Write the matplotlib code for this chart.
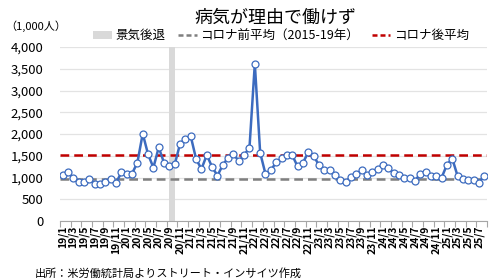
import numpy as np
import matplotlib
matplotlib.use("Agg")
import matplotlib.pyplot as plt
from matplotlib.patches import Patch
from matplotlib.lines import Line2D

plt.rcParams['font.family'] = ['Noto Sans CJK JP', 'DejaVu Sans']

# ---- data ----
years = [19, 20, 21, 22, 23, 24, 25]
months = [f"{y}/{m}" for y in years for m in range(1, 13)][:80]   # 19/1 .. 25/8
values = [1057, 1120, 982, 897, 897, 959, 860, 860, 906, 966,
          874, 1120, 1074, 1090, 1343, 2009, 1533, 1228, 1694, 1333,
          1257, 1303, 1779, 1885, 1947, 1425, 1195, 1517, 1241, 1044,
          1287, 1457, 1533, 1379, 1517, 1687, 3618, 1570, 1080, 1166,
          1349, 1441, 1517, 1517, 1257, 1333, 1579, 1503, 1287, 1166,
          1166, 1057, 936, 906, 1011, 1074, 1166, 1057, 1128, 1200,
          1295, 1211, 1103, 1065, 990, 982, 920, 1090, 1136, 1044,
          1044, 998, 1295, 1433, 1030, 975, 952, 936, 880, 1044]
pre_covid_avg = 960
post_covid_avg = 1510
recession_start = 20.0   # category position of shaded band (as drawn)
recession_end = 21.1

title = "病気が理由で働けず"
unit_label = "（1,000人）"
source = "出所：米労働統計局よりストリート・インサイツ作成"
legend_labels = ["景気後退", "コロナ前平均（2015-19年）", "コロナ後平均"]

# ---- figure ----
fig = plt.figure(figsize=(5, 2.8), dpi=100)
ax = fig.add_axes([0.12, 0.2107, 0.854, 0.6213])

x = np.arange(len(values))
ax.axvspan(recession_start, recession_end, color='#D9D9D9', lw=0, zorder=1)
ax.axhline(pre_covid_avg, color='#7F7F7F', lw=1.8, ls=(0, (3.5, 2)), zorder=2)
ax.axhline(post_covid_avg, color='#C00000', lw=1.8, ls=(0, (3.5, 2)), zorder=2)
ax.plot(x, values, color='#3C6BBF', lw=1.8, marker='o', ms=5,
        mfc='white', mec='#3C6BBF', mew=0.9, zorder=3)

ax.set_xlim(-0.5, len(values) - 0.5)
ax.set_ylim(0, 4000)
ax.set_yticks(np.arange(0, 4001, 500))
ax.set_yticklabels([f"{v:,}" for v in range(0, 4001, 500)], fontsize=9.5)
ax.yaxis.grid(True, color='#E3E3E3', lw=0.9)
ax.set_axisbelow(True)

ax.set_xticks(x[::2])
ax.set_xticklabels(months[::2], rotation=90, fontsize=7.5, fontweight='bold')
ax.set_xticks(np.arange(-0.5, len(values), 2), minor=True)
ax.tick_params(axis='x', which='major', length=0, pad=3)
ax.tick_params(axis='x', which='minor', length=4, color='#A6A6A6', width=0.8)
ax.tick_params(axis='y', length=0, pad=12)

for s in ['left', 'right', 'top']:
    ax.spines[s].set_visible(False)
ax.spines['bottom'].set_color('#A6A6A6')
ax.spines['bottom'].set_linewidth(0.8)

fig.text(0.55, 0.935, title, ha='center', va='center', fontsize=13)
fig.text(0.01, 0.907, unit_label, ha='left', va='center', fontsize=8)
fig.text(0.07, 0.025, source, ha='left', va='center', fontsize=8)

handles = [Patch(facecolor='#D9D9D9', edgecolor='none'),
           Line2D([], [], color='#7F7F7F', lw=1.8, ls=(0, (2, 1.2))),
           Line2D([], [], color='#C00000', lw=1.8, ls=(0, (2, 1.2)))]
fig.legend(handles, legend_labels, loc='center', bbox_to_anchor=(0.562, 0.872),
           ncol=3, frameon=False, fontsize=9, handlelength=1.5, handletextpad=0.3,
           columnspacing=1.0, borderaxespad=0)

fig.savefig("out.png", dpi=100)
